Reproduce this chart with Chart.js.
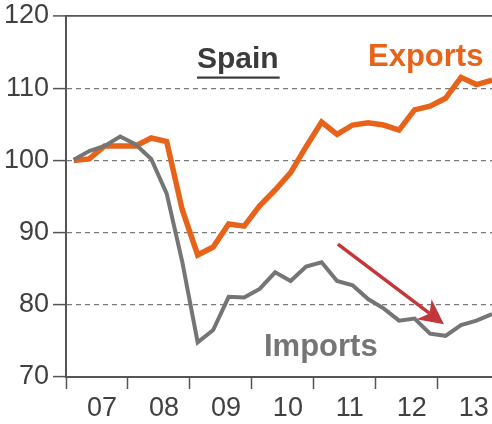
<!DOCTYPE html>
<html>
<head>
<meta charset="utf-8">
<script src="https://cdn.jsdelivr.net/npm/chart.js@4/dist/chart.umd.min.js"></script>
<style>
  html, body { margin: 0; padding: 0; background: #fff; }
  #wrap { width: 492px; height: 424px; }
</style>
</head>
<body>
<div id="wrap"><canvas id="chart" width="492" height="424"></canvas></div>
<script>
// quarterly index, 2007Q1 = 100
const quarters = [
  '07Q1', '07Q2', '07Q3', '07Q4', '08Q1', '08Q2', '08Q3', '08Q4',
  '09Q1', '09Q2', '09Q3', '09Q4', '10Q1', '10Q2', '10Q3', '10Q4',
  '11Q1', '11Q2', '11Q3', '11Q4', '12Q1', '12Q2', '12Q3', '12Q4',
  '13Q1', '13Q2', '13Q3', '13Q4'
];
const exportsIdx = [
  100.0, 100.2, 102.0, 102.0, 102.0, 103.1, 102.6, 93.2,
  86.9, 88.0, 91.2, 90.9, 93.7, 95.9, 98.3, 101.9,
  105.3, 103.6, 104.9, 105.2, 104.9, 104.2, 107.0, 107.5,
  108.6, 111.5, 110.5, 111.1
];
const importsIdx = [
  100.1, 101.3, 102.0, 103.3, 102.2, 100.2, 95.4, 86.0,
  74.8, 76.5, 81.1, 81.0, 82.2, 84.5, 83.3, 85.3,
  85.9, 83.3, 82.7, 80.8, 79.5, 77.8, 78.1, 76.0,
  75.7, 77.2, 77.8, 78.7
];
const yearLabels = ['07', '08', '09', '10', '11', '12', '13'];
const yTicks = [70, 80, 90, 100, 110, 120];
// trend arrow, in (quarter index, index value)
const arrowFrom = [17.05, 88.4];
const arrowTo = [23.9, 77.3];

const orange = '#e8631a';
const grey = '#757575';
const axisGrey = '#555555';

const toPoints = vals => vals.map((v, i) => ({ x: i, y: v }));

// titles, labels and the red arrow
const annotations = {
  id: 'annotations',
  afterDraw(chart) {
    const ctx = chart.ctx;
    const xs = chart.scales.x, ys = chart.scales.y;
    ctx.save();

    ctx.font = 'bold 30px "Liberation Sans", Arial, sans-serif';
    ctx.fillStyle = '#3b3b3b';
    ctx.textAlign = 'left';
    ctx.textBaseline = 'alphabetic';
    ctx.fillText('Spain', 197, 68);
    const w = ctx.measureText('Spain').width;
    ctx.fillRect(197, 76.5, w + 1, 2.2);

    ctx.font = 'bold 31px "Liberation Sans", Arial, sans-serif';
    ctx.fillStyle = orange;
    ctx.fillText('Exports', 368, 66);
    ctx.fillStyle = grey;
    ctx.fillText('Imports', 264, 356);

    // arrow
    const x1 = xs.getPixelForValue(arrowFrom[0]), y1 = ys.getPixelForValue(arrowFrom[1]);
    const x2 = xs.getPixelForValue(arrowTo[0]), y2 = ys.getPixelForValue(arrowTo[1]);
    const ang = Math.atan2(y2 - y1, x2 - x1);
    const c = Math.cos(ang), s = Math.sin(ang);
    const headLen = 25, headW = 12.5, notch = 7;
    ctx.strokeStyle = '#c1373a';
    ctx.fillStyle = '#c1373a';
    ctx.lineWidth = 3.5;
    ctx.beginPath();
    ctx.moveTo(x1, y1);
    ctx.lineTo(x2 - c * (headLen - notch), y2 - s * (headLen - notch));
    ctx.stroke();
    ctx.beginPath();
    ctx.moveTo(x2, y2);
    ctx.lineTo(x2 - c * headLen - s * headW, y2 - s * headLen + c * headW);
    ctx.lineTo(x2 - c * (headLen - notch), y2 - s * (headLen - notch));
    ctx.lineTo(x2 - c * headLen + s * headW, y2 - s * headLen - c * headW);
    ctx.closePath();
    ctx.fill();

    ctx.restore();
  }
};

const tickFont = { family: '"Liberation Sans", Arial, sans-serif', size: 27 };

new Chart(document.getElementById('chart'), {
  type: 'line',
  data: {
    datasets: [
      {
        label: 'Imports',
        data: toPoints(importsIdx),
        borderColor: grey,
        borderWidth: 4,
        pointRadius: 0,
        tension: 0
      },
      {
        label: 'Exports',
        data: toPoints(exportsIdx),
        borderColor: orange,
        borderWidth: 5.5,
        pointRadius: 0,
        tension: 0
      }
    ]
  },
  options: {
    responsive: false,
    devicePixelRatio: 1,
    animation: false,
    layout: { padding: 0 },
    plugins: {
      legend: { display: false },
      tooltip: { enabled: false }
    },
    scales: {
      x: {
        type: 'linear',
        min: -0.5,
        max: quarters.length - 1,
        afterBuildTicks: scale => {
          scale.ticks = yearLabels.map((_, k) => ({ value: k * 4 - 0.5 }));
        },
        afterFit: scale => { scale.height = 47; },
        grid: {
          drawOnChartArea: false,
          drawTicks: true,
          tickLength: 12,
          tickColor: axisGrey,
          tickWidth: 1.5
        },
        border: { display: true, color: axisGrey, width: 2 },
        ticks: {
          autoSkip: false,
          maxRotation: 0,
          labelOffset: 36,
          padding: 3,
          color: '#404040',
          font: tickFont,
          callback: (v, i) => yearLabels[i]
        }
      },
      y: {
        min: 70,
        max: 120,
        afterBuildTicks: scale => {
          scale.ticks = yTicks.map(v => ({ value: v }));
        },
        afterFit: scale => {
          scale.width = 66;
          scale.paddingTop = 16;
          scale.paddingBottom = 0;
        },
        grid: {
          color: c => (c.tick && c.tick.value === 70) ? 'rgba(0,0,0,0)'
            : (c.tick && c.tick.value === 120) ? axisGrey : '#7a7a7a',
          lineWidth: c => (c.tick && c.tick.value === 120) ? 1.8 : 1.2,
          drawTicks: true,
          tickLength: 13,
          tickColor: axisGrey,
          tickWidth: 1.5
        },
        border: {
          display: true,
          color: axisGrey,
          width: 2,
          dash: c => (c.tick && c.tick.value === 120) ? [] : [5, 4]
        },
        ticks: {
          padding: 4,
          color: '#404040',
          font: tickFont
        }
      }
    }
  },
  plugins: [annotations]
});
</script>
</body>
</html>
